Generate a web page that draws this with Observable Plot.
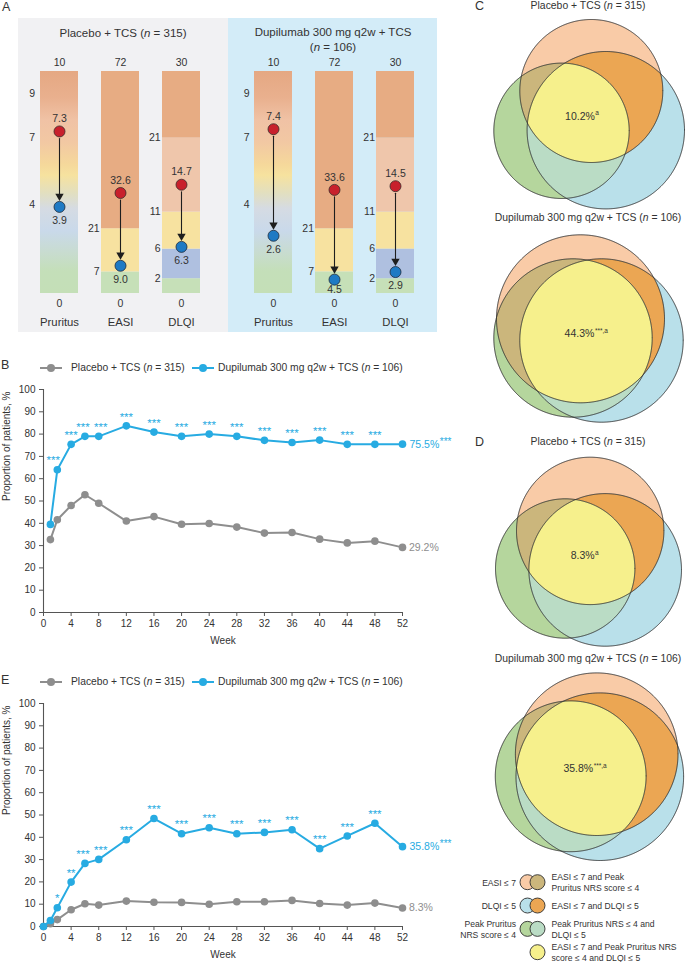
<!DOCTYPE html>
<html><head><meta charset="utf-8">
<script src="https://cdn.jsdelivr.net/npm/d3@7"></script>
<script src="https://cdn.jsdelivr.net/npm/@observablehq/plot@0.6"></script>
<style>
html,body{margin:0;padding:0;background:#fff;overflow:hidden;}
#root{position:relative;width:685px;height:962px;font-family:"Liberation Sans",Arial,Helvetica,sans-serif;color:#333;overflow:hidden;}
.abs{position:absolute;}
.lbl{position:absolute;white-space:nowrap;line-height:1;}
</style></head>
<body>
<svg width="0" height="0" style="position:absolute">
  <defs>
    <linearGradient id="gradPruritus" x1="0" y1="0" x2="0" y2="1">
      <stop offset="0" stop-color="#e5a883"/>
      <stop offset="0.12" stop-color="#e9b08e"/>
      <stop offset="0.22" stop-color="#f0c2a5"/>
      <stop offset="0.32" stop-color="#f2c8a3"/>
      <stop offset="0.42" stop-color="#f5d89b"/>
      <stop offset="0.47" stop-color="#f6e29f"/>
      <stop offset="0.55" stop-color="#e2dfc0"/>
      <stop offset="0.62" stop-color="#d5dbe3"/>
      <stop offset="0.72" stop-color="#c9d9ea"/>
      <stop offset="0.82" stop-color="#c8dccf"/>
      <stop offset="0.9" stop-color="#c4dfb9"/>
      <stop offset="1" stop-color="#c4dfb7"/>
    </linearGradient>
  </defs>
</svg>
<div id="root"></div>
<script>
// ---------------- DATA ----------------
// Panel A
const measures = ["Pruritus", "EASI", "DLQI"];
const maxScores = [10, 72, 30];
const placeboBaseline = [7.3, 32.6, 14.7];
const placeboWeek52 = [3.9, 9.0, 6.3];
const dupiBaseline = [7.4, 33.6, 14.5];
const dupiWeek52 = [2.6, 4.5, 2.9];
const pruritusTicks = [9, 7, 4];
const easiTicks = [21, 7];
const dlqiTicks = [21, 11, 6, 2];
const easiBands = [0, 7, 21, 72];
const dlqiBands = [0, 2, 6, 11, 21, 30];

// Panel B
const weeksB = [1, 2, 4, 6, 8, 12, 16, 20, 24, 28, 32, 36, 40, 44, 48, 52];
const placeboB = [32.7, 41.6, 48.0, 52.8, 49.0, 41.0, 43.0, 39.6, 39.9, 38.3, 35.6, 35.9, 32.9, 31.2, 32.0, 29.2];
const dupiB = [39.5, 64.0, 75.4, 79.0, 79.0, 83.7, 80.9, 79.0, 80.0, 79.0, 77.2, 76.2, 77.3, 75.4, 75.4, 75.5];
const starsB = ["", "***", "***", "***", "***", "***", "***", "***", "***", "***", "***", "***", "***", "***", "***", ""];

// Panel E
const weeksE = [0, 1, 2, 4, 6, 8, 12, 16, 20, 24, 28, 32, 36, 40, 44, 48, 52];
const placeboE = [0, 1.2, 3.1, 7.5, 10.2, 9.6, 11.4, 10.9, 10.8, 10.0, 11.1, 11.1, 11.7, 10.3, 9.6, 10.5, 8.3];
const dupiE = [0, 2.7, 8.4, 19.9, 28.3, 30.1, 38.9, 48.4, 41.6, 44.3, 41.6, 42.2, 43.4, 34.9, 40.6, 46.3, 35.8];
const starsE = ["", "", "*", "**", "***", "***", "***", "***", "***", "***", "***", "***", "***", "***", "***", "***", ""];

// Panels C and D (Venn): circle geometry [dx, dy, r] relative to each diagram's centre
const vennTitles = ["Placebo + TCS (<i>n</i> = 315)", "Dupilumab 300 mg q2w + TCS (<i>n</i> = 106)", "Placebo + TCS (<i>n</i> = 315)", "Dupilumab 300 mg q2w + TCS (<i>n</i> = 106)"];
const vennValues = ["10.2%", "44.3%", "8.3%", "35.8%"];
const vennSups = ["a", "***,a", "a", "***,a"];
const vennEASI = [[2.8, -23.5, 71.5], [-8, -9.7, 84], [1.7, -20.6, 73.7], [7.2, -12.3, 81.3]];
const vennPruritus = [[-27, 16.3, 67.7], [-15.5, 9.5, 79.2], [-23.3, 17, 69.7], [-18.8, 9.8, 75.4]];
const vennDLQI = [[17.3, 15.7, 78.7], [13, 12, 81.7], [16.7, 18.4, 76.3], [10.3, 10.2, 83.8]];

// Venn legend
const legendSingle = ["EASI ≤ 7", "DLQI ≤ 5", "Peak Pruritus\nNRS score ≤ 4"];
const legendPair = ["EASI ≤ 7 and Peak\nPruritus NRS score ≤ 4", "EASI ≤ 7 and DLQI ≤ 5", "Peak Pruritus NRS ≤ 4 and\nDLQI ≤ 5", "EASI ≤ 7 and Peak Pruritus NRS\nscore ≤ 4 and DLQI ≤ 5"];

// ---------------- STYLE ----------------
const FONT = '"Liberation Sans", Arial, Helvetica, sans-serif';
const BLUE = "#27abe2", GRAY = "#8e8e8e", TXT = "#333";
const easiColors = ["#c6e0b8", "#f7e2a0", "#e7ac83"];
const dlqiColors = ["#c6e0b8", "#afc0e0", "#f7e2a0", "#efc6ab", "#e7ac83"];
const C_EASI = "#f9cba7", C_PRU = "#b5d69d", C_DLQI = "#b9e0ea";
const C_EP = "#cbb67c", C_ED = "#eba653", C_PD = "#badcc5", C_ALL = "#f6f08c";
const OUTLINE = "#2e2e2e";

const root = document.getElementById("root");
const ctx = document.createElement("canvas").getContext("2d");
function tw(s, size) { ctx.font = `${size}px "Liberation Sans"`; return ctx.measureText(s).width; }

function label(html, x, y, size, anchor = "middle", extra = {}) {
  const d = document.createElement("div");
  d.className = "lbl";
  d.innerHTML = html;
  d.style.left = x + "px";
  d.style.top = y + "px";
  d.style.fontSize = size + "px";
  const tx = anchor === "middle" ? "-50%" : anchor === "end" ? "-100%" : "0";
  d.style.transform = `translate(${tx},-50%)`;
  Object.assign(d.style, extra);
  root.appendChild(d);
  return d;
}
function place(node, left, top) {
  node.style.position = "absolute";
  node.style.left = left + "px";
  node.style.top = top + "px";
  root.appendChild(node);
}
function box(left, top, w, h, bg) {
  const d = document.createElement("div");
  d.className = "abs";
  Object.assign(d.style, {left: left + "px", top: top + "px", width: w + "px", height: h + "px", background: bg});
  root.appendChild(d);
}
const baseStyle = {background: "none", fontFamily: FONT, color: TXT, overflow: "visible"};

// ---------------- PANEL A ----------------
box(18, 18, 210, 314, "#f1f1f3");
box(228, 18, 209, 314, "#d3ecf8");
label("A", 2, 7, 12.5, "start");
label("Placebo + TCS (<i>n</i> = 315)", 123, 34, 11.5);
label("Dupilumab 300 mg q2w + TCS", 333, 33, 11.5);
label("(<i>n</i> = 106)", 333, 47.5, 11.5);

const BAR_PX = 222; // pixel height of the bars (margin-derived)
function panelA(baseline, wk52, width, ml, mr, pad) {
  const bars = [];
  bars.push({measure: "Pruritus", lo: 0, hi: 1, fill: "url(#gradPruritus)"});
  for (let i = 0; i < easiBands.length - 1; i++)
    bars.push({measure: "EASI", lo: easiBands[i] / 72, hi: easiBands[i + 1] / 72, fill: easiColors[i]});
  for (let i = 0; i < dlqiBands.length - 1; i++)
    bars.push({measure: "DLQI", lo: dlqiBands[i] / 30, hi: dlqiBands[i + 1] / 30, fill: dlqiColors[i]});
  const rows = measures.map((m, i) => ({measure: m, max: maxScores[i], base: baseline[i], end: wk52[i]}));
  const rowsLow = rows.filter(d => d.end / d.max * BAR_PX < 17.5);
  const rowsHigh = rows.filter(d => d.end / d.max * BAR_PX >= 17.5);
  const pruTicks = pruritusTicks.map(v => ({measure: "Pruritus", v, max: 10}));
  const otherTicks = [
    ...easiTicks.map(v => ({measure: "EASI", v, max: 72})),
    ...dlqiTicks.map(v => ({measure: "DLQI", v, max: 30}))
  ];
  const step = (width - ml - mr) / 3;
  const half = step * (1 - pad) / 2;
  return Plot.plot({
    width, height: 314, marginTop: 53, marginBottom: 39, marginLeft: ml, marginRight: mr,
    x: {type: "band", domain: measures, paddingInner: pad, paddingOuter: pad / 2, axis: null},
    y: {domain: [0, 1], axis: null},
    color: {type: "identity"},
    style: baseStyle,
    marks: [
      Plot.barY(bars, {x: "measure", y1: "lo", y2: "hi", fill: "fill"}),
      Plot.arrow(rows, {x: "measure", y1: d => d.base / d.max, y2: d => d.end / d.max, stroke: "#1e1e1e", strokeWidth: 1.1, headLength: 0, insetStart: 7, insetEnd: 9}),
      Plot.dot(rows, {x: "measure", y: d => d.end / d.max, symbol: "triangle", rotate: 180, r: 3.1, fill: "#1e1e1e", dy: -10.8}),
      Plot.dot(rows, {x: "measure", y: d => d.base / d.max, r: 5.5, fill: "#c8202c", stroke: "#3a2a2a", strokeWidth: 0.8}),
      Plot.dot(rows, {x: "measure", y: d => d.end / d.max, r: 5.5, fill: "#1f7ac4", stroke: "#1d2a3a", strokeWidth: 0.8}),
      Plot.text(rows, {x: "measure", y: d => d.base / d.max, text: d => d.base.toFixed(1), dy: -12.7, fontSize: 10.5, fill: TXT}),
      Plot.text(rowsHigh, {x: "measure", y: d => d.end / d.max, text: d => d.end.toFixed(1), dy: 14, fontSize: 10.5, fill: TXT}),
      Plot.text(rowsLow, {x: "measure", y: d => d.end / d.max, text: d => d.end.toFixed(1), dy: 10, fontSize: 10.5, fill: TXT}),
      Plot.text(pruTicks, {x: "measure", y: d => d.v / d.max, text: d => String(d.v), dx: -(half + 5), fontSize: 10.5, fill: TXT, textAnchor: "end"}),
      Plot.text(otherTicks, {x: "measure", y: d => d.v / d.max, text: d => String(d.v), dx: -(half + 1.5), fontSize: 10.5, fill: TXT, textAnchor: "end"}),
      Plot.text(rows, {x: "measure", y: () => 1, text: d => String(d.max), dy: -8.5, fontSize: 10.5, fill: TXT}),
      Plot.text(rows, {x: "measure", y: () => 0, text: () => "0", dy: 10.5, fontSize: 10.5, fill: TXT}),
      Plot.text(rows, {x: "measure", y: () => 0, text: "measure", dy: 29, fontSize: 11.3, fill: TXT})
    ]
  });
}
place(panelA(placeboBaseline, placeboWeek52, 210, 10, 16, 0.37), 18, 18);
place(panelA(dupiBaseline, dupiWeek52, 209, 13.6, 10.1, 0.385), 228, 18);

// ---------------- LINE CHARTS (B, E) ----------------
function lineChart(weeks, placebo, dupi, stars, nudgeWeek2) {
  const P = weeks.map((w, i) => ({week: w, value: placebo[i]}));
  const D = weeks.map((w, i) => ({week: w, value: dupi[i], star: stars[i]}));
  const lastP = P[P.length - 1], lastD = D[D.length - 1];
  const endD = lastD.value.toFixed(1) + "%";
  const starred = D.filter(d => d.star);
  const starMark = (rows, dx) => Plot.text(rows, {x: "week", y: "value", text: "star", dy: -9, dx, fill: BLUE, fontSize: 11.5});
  return Plot.plot({
    width: 470, height: 280, marginTop: 13, marginBottom: 44, marginLeft: 43, marginRight: 68,
    x: {domain: [0, 52], axis: null},
    y: {domain: [0, 100], axis: null},
    style: baseStyle,
    marks: [
      Plot.axisY({ticks: d3.range(0, 101, 10), tickSize: 4, tickPadding: 4, label: null, fontSize: 10, stroke: "#555", fill: TXT}),
      Plot.axisX({ticks: d3.range(0, 53, 4), tickSize: 4, tickPadding: 3, label: null, fontSize: 10, stroke: "#555", fill: TXT}),
      Plot.ruleX([0], {stroke: "#555", strokeWidth: 1.1}),
      Plot.ruleY([0], {stroke: "#555", strokeWidth: 1.1}),
      Plot.text(["Week"], {frameAnchor: "bottom", dy: 31, fontSize: 10, fill: TXT}),
      Plot.text(["Proportion of patients, %"], {frameAnchor: "left", dx: -37, rotate: -90, fontSize: 10, fill: TXT}),
      Plot.line(P, {x: "week", y: "value", stroke: GRAY, strokeWidth: 2}),
      Plot.dot(P, {x: "week", y: "value", r: 3.8, fill: GRAY}),
      Plot.line(D, {x: "week", y: "value", stroke: BLUE, strokeWidth: 2}),
      Plot.dot(D, {x: "week", y: "value", r: 3.8, fill: BLUE}),
      starMark(starred.filter(d => d.week === 2), nudgeWeek2 ? -4 : 0),
      starMark(starred.filter(d => d.week === 6), -2),
      starMark(starred.filter(d => d.week === 8), 2),
      starMark(starred.filter(d => ![2, 6, 8].includes(d.week)), 0),
      Plot.text([lastP], {x: "week", y: "value", text: d => d.value.toFixed(1) + "%", dx: 6.5, textAnchor: "start", fill: GRAY, fontSize: 10.5}),
      Plot.text([lastD], {x: "week", y: "value", text: () => endD, dx: 7, textAnchor: "start", fill: BLUE, fontSize: 10.5}),
      Plot.text([lastD], {x: "week", y: "value", text: () => "***", dx: 7.5 + tw(endD, 10.5), dy: -2.5, textAnchor: "start", fill: BLUE, fontSize: 10})
    ]
  });
}
place(lineChart(weeksB, placeboB, dupiB, starsB, true), 0, 376);
place(lineChart(weeksE, placeboE, dupiE, starsE, false), 0, 690);

function legendRow(y) {
  const mk = (x0, color) => {
    const s = document.createElementNS("http://www.w3.org/2000/svg", "svg");
    s.setAttribute("width", 24); s.setAttribute("height", 10);
    s.innerHTML = `<line x1="1" y1="5" x2="23" y2="5" stroke="${color}" stroke-width="2"/><circle cx="12" cy="5" r="4" fill="${color}"/>`;
    place(s, x0, y - 5);
  };
  mk(39, GRAY);
  label("Placebo + TCS (<i>n</i> = 315)", 71, y, 10.3, "start");
  mk(191, BLUE);
  label("Dupilumab 300 mg q2w + TCS (<i>n</i> = 106)", 218, y, 10.3, "start");
}
label("B", 1, 365, 12.5, "start");
legendRow(368);
label("E", 1, 680, 12.5, "start");
legendRow(682);

// ---------------- VENN (C, D) ----------------
function circlePoints([cx, cy, r], n = 720) {
  return d3.range(n).map(i => { const a = 2 * Math.PI * i / n; return {x: cx + r * Math.cos(a), y: cy + r * Math.sin(a)}; });
}
function inside(p, [cx, cy, r]) { return (p.x - cx) ** 2 + (p.y - cy) ** 2 <= r * r + 1e-6; }
function region(circles) {
  const pts = [];
  circles.forEach((c, i) => {
    for (const p of circlePoints(c)) if (circles.every((o, j) => j === i || inside(p, o))) pts.push(p);
  });
  const mx = d3.mean(pts, d => d.x), my = d3.mean(pts, d => d.y);
  pts.sort((a, b) => Math.atan2(a.y - my, a.x - mx) - Math.atan2(b.y - my, b.x - mx));
  pts.cx = mx; pts.cy = my;
  return pts;
}
function venn(k) {
  const E = vennEASI[k], P = vennPruritus[k], Dq = vennDLQI[k];
  const all = region([E, P, Dq]);
  const fillPoly = (pts, color) => Plot.line(pts, {x: "x", y: "y", curve: "linear-closed", fill: color, stroke: "none"});
  const outline = (c) => Plot.line(circlePoints(c), {x: "x", y: "y", curve: "linear-closed", fill: "none", stroke: OUTLINE, strokeWidth: 0.9});
  const val = vennValues[k], sup = vennSups[k];
  const wMain = tw(val, 10.5), wSup = tw(sup, 6.5);
  const x0 = all.cx - (wMain + wSup) / 2;
  return Plot.plot({
    width: 200, height: 200, margin: 0,
    x: {domain: [-100, 100], axis: null},
    y: {domain: [100, -100], axis: null},
    style: baseStyle,
    marks: [
      fillPoly(circlePoints(E), C_EASI),
      fillPoly(circlePoints(P), C_PRU),
      fillPoly(circlePoints(Dq), C_DLQI),
      fillPoly(region([E, P]), C_EP),
      fillPoly(region([E, Dq]), C_ED),
      fillPoly(region([P, Dq]), C_PD),
      fillPoly(all, C_ALL),
      outline(E), outline(P), outline(Dq),
      Plot.text([val], {x: () => x0, y: () => all.cy, text: d => d, textAnchor: "start", fontSize: 10.5, fill: TXT}),
      Plot.text([sup], {x: () => x0, y: () => all.cy, text: d => d, dx: wMain + 0.5, dy: -3, textAnchor: "start", fontSize: 6.5, fill: TXT})
    ]
  });
}
const vennCentres = [[588, 114], [588, 328], [588, 551], [588.5, 766]];
const vennTitleY = [6, 218, 441.5, 659.3];
vennCentres.forEach(([cx, cy], k) => {
  place(venn(k), cx - 100, cy - 100);
  label(vennTitles[k], 588, vennTitleY[k], 10.4);
});
label("C", 475, 6, 12.5, "start");
label("D", 475, 442, 12.5, "start");

// Venn legend
(function() {
  const singleColors = [C_EASI, C_DLQI, C_PRU];
  const pairColors = [C_EP, C_ED, C_PD, C_ALL];
  const single = legendSingle.map((t, i) => ({row: i, text: t, col: "single", color: singleColors[i]}));
  const pair = legendPair.map((t, i) => ({row: i, text: t, col: "pair", color: pairColors[i]}));
  const p = Plot.plot({
    width: 230, height: 96, margin: 0,
    x: {type: "point", domain: ["single", "pair"], range: [65.8, 87.5], axis: null},
    y: {domain: [0, 3], range: [15.7, 85.7], axis: null},
    color: {type: "identity"},
    style: baseStyle,
    marks: [
      Plot.dot([...single, ...pair], {x: "col", y: "row", r: 7.5, fill: "color", stroke: OUTLINE, strokeWidth: 0.9}),
      Plot.text(single, {x: "col", y: "row", text: "text", dx: -11.5, textAnchor: "end", fontSize: 8.6, lineHeight: 1.3, fill: TXT}),
      Plot.text(pair, {x: "col", y: "row", text: "text", dx: 14, textAnchor: "start", fontSize: 8.6, lineHeight: 1.25, fill: TXT})
    ]
  });
  place(p, 455, 866);
})();
</script>
</body></html>
